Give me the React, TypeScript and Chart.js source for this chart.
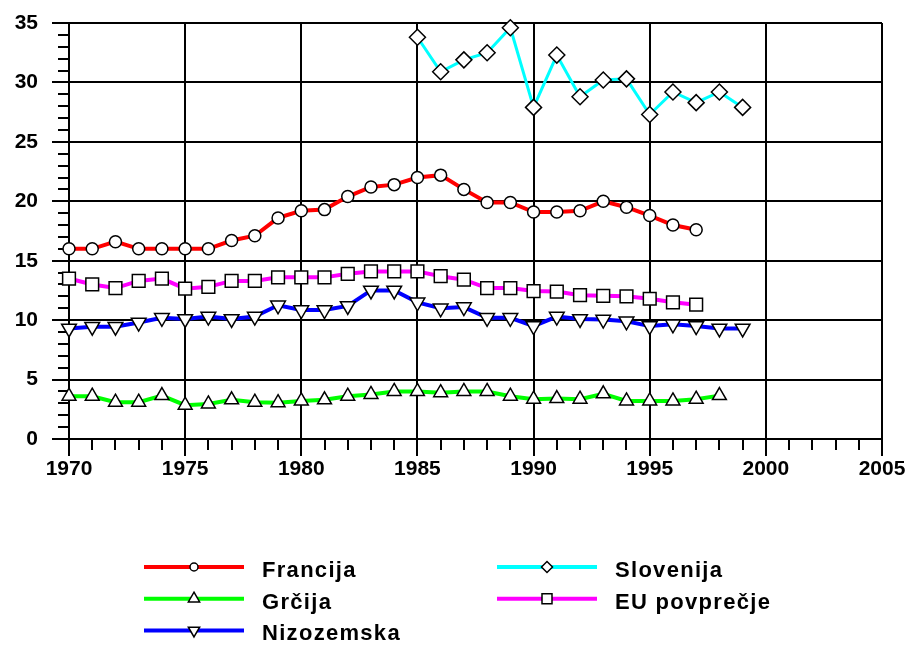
import React, { useEffect, useRef } from "react";
import { Chart, registerables } from "chart.js";

Chart.register(...registerables);

const YEARS = [1970, 1971, 1972, 1973, 1974, 1975, 1976, 1977, 1978, 1979, 1980, 1981, 1982, 1983, 1984, 1985, 1986, 1987, 1988, 1989, 1990, 1991, 1992, 1993, 1994, 1995, 1996, 1997, 1998, 1999];

const FRANCIJA = [16.0, 16.0, 16.6, 16.0, 16.0, 16.0, 16.0, 16.7, 17.1, 18.6, 19.2, 19.3, 20.4, 21.2, 21.4, 22.0, 22.2, 21.0, 19.9, 19.9, 19.1, 19.1, 19.2, 20.0, 19.5, 18.8, 18.0, 17.6, null, null];
const GRCIJA = [3.6, 3.6, 3.1, 3.1, 3.65, 2.85, 2.95, 3.3, 3.1, 3.05, 3.2, 3.3, 3.6, 3.75, 4.0, 4.0, 3.9, 4.0, 4.0, 3.6, 3.35, 3.4, 3.35, 3.8, 3.2, 3.2, 3.2, 3.35, 3.65, null];
const NIZOZEMSKA = [9.3, 9.45, 9.45, 9.8, 10.2, 10.1, 10.3, 10.1, 10.3, 11.25, 10.85, 10.85, 11.2, 12.5, 12.5, 11.5, 11.0, 11.1, 10.2, 10.2, 9.5, 10.3, 10.1, 10.05, 9.9, 9.5, 9.65, 9.5, 9.3, 9.3];
const SLOVENIJA = [null, null, null, null, null, null, null, null, null, null, null, null, null, null, null, 33.8, 30.9, 31.9, 32.5, 34.6, 27.9, 32.3, 28.8, 30.2, 30.3, 27.3, 29.2, 28.3, 29.2, 27.9];
const EU = [13.5, 13.0, 12.7, 13.3, 13.5, 12.65, 12.8, 13.3, 13.3, 13.6, 13.6, 13.6, 13.9, 14.1, 14.1, 14.1, 13.7, 13.4, 12.7, 12.7, 12.45, 12.4, 12.1, 12.05, 12.0, 11.8, 11.5, 11.3, null, null];

const SERIES_NAMES = ["Francija", "Grčija", "Nizozemska", "Slovenija", "EU povprečje"];
const X_MIN = 1970;
const X_MAX = 2005;
const Y_MIN = 0;
const Y_MAX = 35;

const FONT = '"Liberation Sans", Arial, sans-serif';

const toPoints = (vals: (number | null)[]) =>
  YEARS.map((x, i) => ({ x, y: vals[i] })).filter((p) => p.y !== null);

type Marker = "circle" | "triangle" | "triangleDown" | "rectRot" | "rect";

const STYLE: { color: string; marker: Marker; width: number; r: number; col: number; row: number }[] = [
  { color: "#ff0000", marker: "circle", width: 4, r: 6, col: 0, row: 0 },
  { color: "#00ff00", marker: "triangle", width: 4, r: 8, col: 0, row: 1 },
  { color: "#0000ff", marker: "triangleDown", width: 4, r: 8.5, col: 0, row: 2 },
  { color: "#00ffff", marker: "rectRot", width: 3, r: 8, col: 1, row: 0 },
  { color: "#ff00ff", marker: "rect", width: 4, r: 9, col: 1, row: 1 },
];

function drawMarker(ctx: CanvasRenderingContext2D, m: Marker, x: number, y: number, r: number) {
  ctx.beginPath();
  if (m === "circle") {
    ctx.arc(x, y, r, 0, Math.PI * 2);
  } else if (m === "triangle" || m === "triangleDown") {
    const s = m === "triangle" ? 1 : -1;
    ctx.moveTo(x, y - s * r);
    ctx.lineTo(x + r * 0.866, y + s * r * 0.5);
    ctx.lineTo(x - r * 0.866, y + s * r * 0.5);
    ctx.closePath();
  } else if (m === "rectRot") {
    ctx.moveTo(x - r, y);
    ctx.lineTo(x, y - r);
    ctx.lineTo(x + r, y);
    ctx.lineTo(x, y + r);
    ctx.closePath();
  } else {
    ctx.rect(x - r, y - r, 2 * r, 2 * r);
  }
  ctx.fillStyle = "#ffffff";
  ctx.fill();
  ctx.lineWidth = 1.5;
  ctx.strokeStyle = "#000000";
  ctx.stroke();
}

const minorTicksPlugin = {
  id: "minorTicks",
  beforeDatasetsDraw(chart: any) {
    const { ctx, scales } = chart;
    const xs = scales.x;
    const ys = scales.y;
    ctx.save();
    ctx.strokeStyle = "#000000";
    ctx.lineWidth = 2;
    ctx.beginPath();
    for (let v = Y_MIN; v <= Y_MAX; v++) {
      if (v % 5 === 0) continue;
      const py = Math.round(ys.getPixelForValue(v));
      ctx.moveTo(xs.left - 11, py);
      ctx.lineTo(xs.left, py);
    }
    for (let v = X_MIN; v <= X_MAX; v++) {
      if (v % 5 === 0) continue;
      const px = Math.round(xs.getPixelForValue(v));
      ctx.moveTo(px, ys.bottom);
      ctx.lineTo(px, ys.bottom + 11);
    }
    ctx.stroke();
    ctx.restore();
  },
};

const legendPlugin = {
  id: "customLegend",
  afterDraw(chart: any) {
    const { ctx } = chart;
    const colX = [144, 497];
    const rowY0 = 567;
    const rowH = 31.7;
    const lineLen = 100;
    ctx.save();
    chart.data.datasets.forEach((ds: any, i: number) => {
      const st = STYLE[i];
      const x0 = colX[st.col];
      const y = rowY0 + st.row * rowH;
      ctx.strokeStyle = st.color;
      ctx.lineWidth = 4;
      ctx.beginPath();
      ctx.moveTo(x0, y);
      ctx.lineTo(x0 + lineLen, y);
      ctx.stroke();
      const smallR = st.marker === "circle" ? 4 : st.marker === "rect" ? 5 : st.marker === "rectRot" ? 5.5 : 6.5;
      drawMarker(ctx, st.marker, x0 + lineLen / 2, y, smallR);
      ctx.fillStyle = "#000000";
      ctx.font = `bold 22px ${FONT}`;
      (ctx as any).letterSpacing = "1.3px";
      ctx.textBaseline = "middle";
      ctx.textAlign = "left";
      ctx.fillText(ds.label, x0 + 118, y + 4);
      (ctx as any).letterSpacing = "0px";
    });
    ctx.restore();
  },
};

export default function App() {
  const ref = useRef<HTMLCanvasElement>(null);

  useEffect(() => {
    if (!ref.current) return;
    const seriesValues = [FRANCIJA, GRCIJA, NIZOZEMSKA, SLOVENIJA, EU];
    const datasets = seriesValues.map((vals, i) => {
      const st = STYLE[i];
      return {
        label: SERIES_NAMES[i],
        data: toPoints(vals),
        borderColor: st.color,
        backgroundColor: "#ffffff",
        borderWidth: st.width,
        tension: 0,
        clip: false,
        pointStyle: st.marker === "triangleDown" ? "triangle" : st.marker,
        rotation: st.marker === "triangleDown" ? 180 : 0,
        pointRadius: st.r,
        pointHoverRadius: st.r,
        pointBackgroundColor: "#ffffff",
        pointBorderColor: "#000000",
        pointBorderWidth: 1.5,
      };
    });

    const chart = new Chart(ref.current, {
      type: "line",
      data: { datasets },
      options: {
        animation: false,
        responsive: false,
        maintainAspectRatio: false,
        layout: { padding: { left: 0, top: 23, right: 25, bottom: 0 } },
        plugins: {
          legend: { display: false },
          tooltip: { enabled: false },
          title: { display: false },
        },
        scales: {
          x: {
            type: "linear",
            min: X_MIN,
            max: X_MAX,
            afterFit: (scale: any) => {
              scale.height = 646 - 439;
              scale.paddingLeft = 0;
              scale.paddingRight = 0;
            },
            ticks: {
              stepSize: 5,
              color: "#000000",
              padding: 1,
              maxRotation: 0,
              font: { family: FONT, size: 21, weight: "bold" },
              callback: (v: any) => String(v),
            },
            grid: {
              color: "#000000",
              lineWidth: 2,
              tickLength: 17,
              drawTicks: true,
            },
            border: { display: true, color: "#000000", width: 2 },
          },
          y: {
            type: "linear",
            min: Y_MIN,
            max: Y_MAX,
            afterFit: (scale: any) => {
              scale.width = 69;
              scale.paddingTop = 0;
              scale.paddingBottom = 0;
            },
            ticks: {
              stepSize: 5,
              color: "#000000",
              padding: 14,
              font: { family: FONT, size: 21, weight: "bold" },
            },
            grid: {
              color: "#000000",
              lineWidth: 2,
              tickLength: 17,
              drawTicks: true,
            },
            border: { display: true, color: "#000000", width: 2 },
          },
        },
      },
      plugins: [minorTicksPlugin, legendPlugin],
    } as any);
    return () => chart.destroy();
  }, []);

  return (
    <div style={{ position: "absolute", left: 0, top: 0, width: 907, height: 646, background: "#ffffff" }}>
      <canvas ref={ref} width={907} height={646} style={{ display: "block", width: 907, height: 646 }} />
    </div>
  );
}
